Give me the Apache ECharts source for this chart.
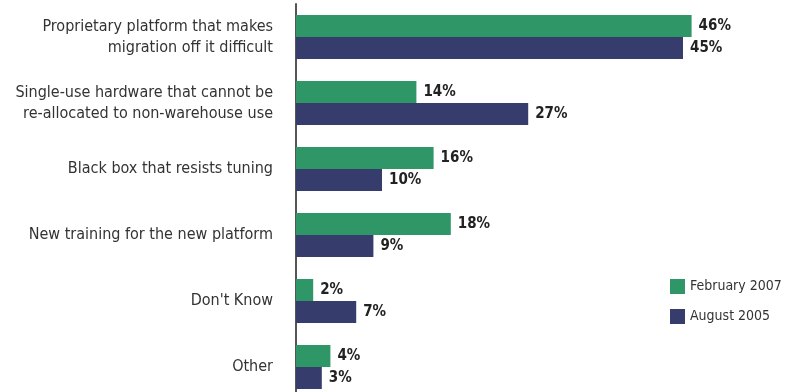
<!DOCTYPE html>
<html>
<head>
<meta charset="utf-8">
<script src="https://cdn.jsdelivr.net/npm/echarts@6/dist/echarts.min.js"></script>
<style>
  html, body { margin: 0; padding: 0; background: #fff; }
  #chart { width: 795px; height: 392px; }
</style>
</head>
<body>
<div id="chart"></div>
<script>
// data
const categories = [
  'Proprietary platform that makes\nmigration off it difficult',
  'Single-use hardware that cannot be\nre-allocated to non-warehouse use',
  'Black box that resists tuning',
  'New training for the new platform',
  "Don't Know",
  'Other'
]
const feb2007 = [46, 14, 16, 18, 2, 4]
const aug2005 = [45, 27, 10, 9, 7, 3]

const GREEN = '#2f9667'
const NAVY  = '#363c6c'
const FONT  = '"Liberation Sans Narrow", "DejaVu Sans Condensed", Roboto, sans-serif'

const chart = echarts.init(document.getElementById('chart'), null, { renderer: 'canvas' })

const valueLabel = {
  show: true,
  position: 'right',
  distance: 7,
  formatter: '{c}%',
  color: '#222',
  fontFamily: FONT,
  fontSize: 15,
  fontWeight: 'bold'
}

chart.setOption({
  animation: false,
  backgroundColor: '#fff',
  textStyle: { fontFamily: FONT },
  grid: {
    left: 296, top: 4, width: 430, height: 396,
    containLabel: false,
    outerBoundsMode: 'none'
  },
  legend: {
    orient: 'vertical',
    left: 670,
    top: 279,
    padding: 0,
    itemWidth: 15,
    itemHeight: 15,
    itemGap: 15,
    icon: 'rect',
    textStyle: { color: '#333', fontSize: 14, fontFamily: FONT },
    data: ['February 2007', 'August 2005']
  },
  xAxis: {
    type: 'value',
    min: 0,
    max: 50,
    show: false
  },
  yAxis: {
    type: 'category',
    inverse: true,
    data: categories,
    axisLine: { show: true, lineStyle: { color: '#555', width: 2 } },
    axisTick: { show: false },
    axisLabel: {
      margin: 23,
      color: '#333',
      fontSize: 16,
      lineHeight: 21,
      fontFamily: FONT,
      align: 'right'
    }
  },
  series: [
    {
      name: 'February 2007',
      type: 'bar',
      data: feb2007,
      barWidth: 22,
      barGap: '0%',
      itemStyle: { color: GREEN },
      label: valueLabel
    },
    {
      name: 'August 2005',
      type: 'bar',
      data: aug2005,
      barWidth: 22,
      barGap: '0%',
      itemStyle: { color: NAVY },
      label: valueLabel
    }
  ]
})
</script>
</body>
</html>
